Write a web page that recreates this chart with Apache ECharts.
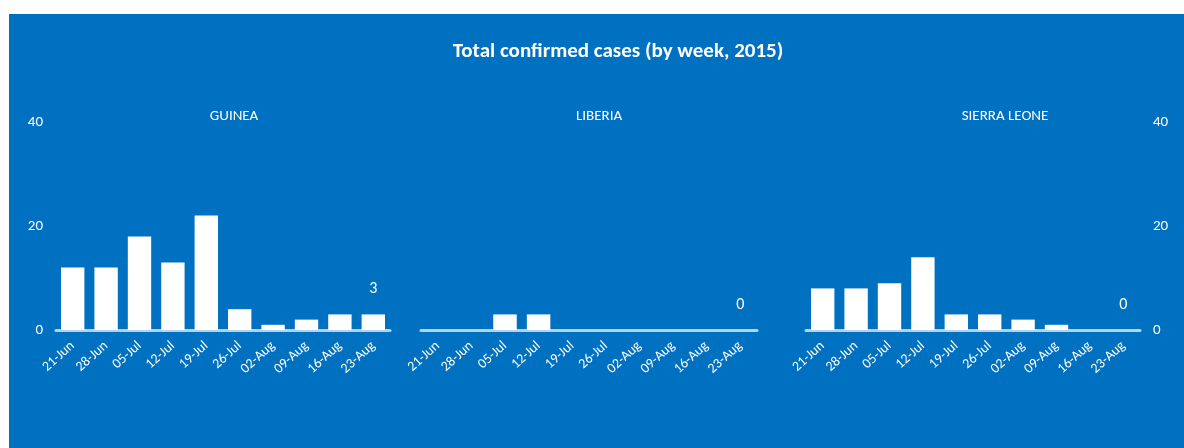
<!DOCTYPE html>
<html>
<head>
<meta charset="utf-8">
<script src="https://cdn.jsdelivr.net/npm/echarts@6/dist/echarts.min.js"></script>
<style>
html,body{margin:0;padding:0;background:#ffffff;}
#c{width:1184px;height:448px;}
</style>
</head>
<body>
<div id="c"></div>
<script>
const weeks = ['21-Jun','28-Jun','05-Jul','12-Jul','19-Jul','26-Jul','02-Aug','09-Aug','16-Aug','23-Aug'];
const guinea = [12, 12, 18, 13, 22, 4, 1, 2, 3, 3];
const liberia = [0, 0, 3, 3, 0, 0, 0, 0, 0, 0];
const sierraLeone = [8, 8, 9, 14, 3, 3, 2, 1, 0, 0];
const countries = ['GUINEA', 'LIBERIA', 'SIERRA LEONE'];
const yTicks = [0, 20, 40];

const FONT = "Carlito, 'Liberation Sans Narrow', 'Open Sans', sans-serif";
const seriesData = [guinea, liberia, sierraLeone];
const grids = [
  {left: 56, width: 334, top: 122, bottom: 118},
  {left: 421, width: 336, top: 122, bottom: 118},
  {left: 806, width: 334, top: 122, bottom: 118}
];
const titleX = [229, 594, 1000];

function withLastLabel(arr) {
  return arr.map((v, i) => i === arr.length - 1
    ? {value: v, label: {show: true, position: 'top', distance: 17, color: '#ffffff', fontSize: 16, fontFamily: FONT}}
    : v);
}

const chart = echarts.init(document.getElementById('c'));
chart.setOption({
  backgroundColor: '#ffffff',
  graphic: [{type: 'rect', shape: {x: 9, y: 14, width: 1175, height: 434}, style: {fill: '#0070C0'}, z: -10, silent: true}],
  title: [
    {text: 'Total confirmed cases (by week, 2015)', left: 613, top: 47, textAlign: 'center', textVerticalAlign: 'middle',
     textStyle: {color: '#ffffff', fontSize: 21, fontWeight: 'bold', fontFamily: FONT}}
  ].concat(countries.map((c, i) => ({
    text: c, left: titleX[i], top: 111, textAlign: 'center', textVerticalAlign: 'middle',
    textStyle: {color: '#ffffff', fontSize: 15, fontWeight: 'normal', fontFamily: FONT}
  }))),
  grid: grids,
  xAxis: grids.map((g, i) => ({
    type: 'category', gridIndex: i, data: weeks,
    axisLine: {show: true, lineStyle: {color: 'rgba(255,255,255,0.7)', width: 3}},
    axisTick: {show: false},
    axisLabel: {rotate: 42, color: '#ffffff', fontSize: 14, fontFamily: FONT, margin: 14, interval: 0}
  })),
  yAxis: grids.map((g, i) => ({
    type: 'value', gridIndex: i, min: yTicks[0], max: yTicks[yTicks.length - 1], interval: yTicks[1] - yTicks[0],
    position: i === 2 ? 'right' : 'left',
    splitLine: {show: false}, axisLine: {show: false}, axisTick: {show: false},
    axisLabel: {show: i !== 1, color: '#ffffff', fontSize: 15, fontFamily: FONT, margin: 13}
  })),
  series: seriesData.map((d, i) => ({
    type: 'bar', xAxisIndex: i, yAxisIndex: i, data: withLastLabel(d),
    barCategoryGap: '30%', itemStyle: {color: '#ffffff'}, animation: false
  }))
});
</script>
</body>
</html>
